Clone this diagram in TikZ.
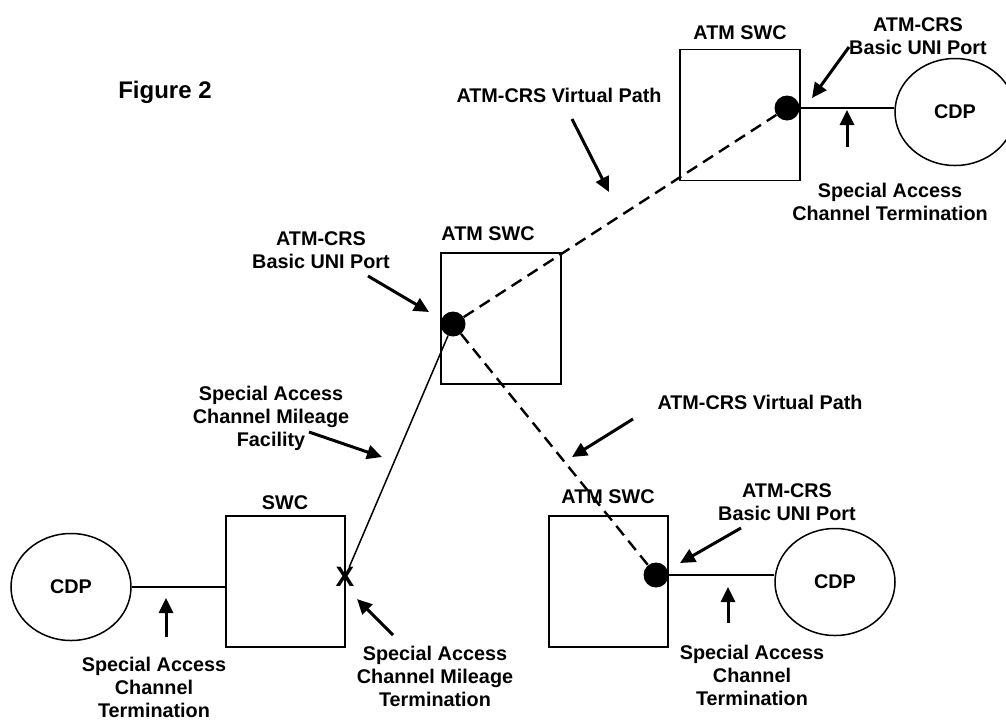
\documentclass[tikz,border=0pt]{standalone}
\usepackage{fontspec}
\setmainfont{Liberation Sans}
\usetikzlibrary{shapes.geometric,arrows.meta}
\tikzset{
  lbl/.style={font=\fontsize{19.8}{23}\selectfont\bfseries, inner sep=0pt, align=center},
  swbox/.style={draw, line width=1.9pt, minimum width=120pt, minimum height=131pt, inner sep=0pt},
  port/.style={circle, fill=black, minimum size=25pt, inner sep=0pt},
  cdp/.style={ellipse, draw, line width=1.5pt, minimum width=120pt, minimum height=107pt, inner sep=0pt, font=\fontsize{19.8}{23}\selectfont\bfseries},
  arr/.style={line width=3pt, -{Triangle[length=15pt,width=14pt]}},
  vpath/.style={line width=2.4pt, dash pattern=on 12pt off 7pt},
  facil/.style={line width=1.5pt},
  tline/.style={line width=1.5pt}
}
\begin{document}
\begin{tikzpicture}[x=1pt,y=-1pt]
\useasboundingbox[fill=white] (0,0) rectangle (1006,721);

% boxes
\node[swbox] (tbox) at (740,115) {};
\node[swbox] (mbox) at (501,318.5) {};
\node[swbox, minimum width=119pt] (sbox) at (285.5,581.5) {};
\node[swbox, minimum width=119pt] (bbox) at (608.5,581.5) {};

% box labels
\node[lbl] (tboxl) at (740,33) {ATM SWC};
\node[lbl] (mboxl) at (488,234) {ATM SWC};
\node[lbl] (sboxl) at (285,503) {SWC};
\node[lbl] (bboxl) at (608,497) {ATM SWC};

% CDPs
\node[cdp] (tcdp) at (955,112) {CDP};
\node[cdp] (lcdp) at (71,587) {CDP};
\node[cdp] (bcdp) at (835,582) {CDP};

% ports
\node[port] (tdot) at (787,108) {};
\node[port] (mdot) at (453,324) {};
\node[port] (bdot) at (656,575) {};
\node[lbl, font=\fontsize{28}{30}\selectfont\bfseries] (xm) at (345,577) {X};

% connections
\draw[vpath] (mdot) -- (tdot);
\draw[vpath] (mdot) -- (bdot);
\draw[facil] (mdot) -- (xm);
\draw[tline] (tdot) -- (tdot -| tcdp.west);
\draw[tline] (bdot) -- (bdot -| bcdp.west);
\draw[tline] (lcdp.east) -- (lcdp.east -| sbox.west);

% labels
\node[lbl, font=\fontsize{24}{26}\selectfont\bfseries] (fig) at (165,92) {Figure 2};
\node[lbl] (vp1) at (559,95) {ATM-CRS Virtual Path};
\node[lbl] (tuni) at (918,36) {ATM-CRS\\Basic UNI Port};
\node[lbl] (tsact) at (890,201.5) {Special Access\\Channel Termination};
\node[lbl] (muni) at (321,250.5) {ATM-CRS\\Basic UNI Port};
\node[lbl] (fac) at (271,418) {Special Access\\Channel Mileage\\Facility};
\node[lbl] (vp2) at (760,402) {ATM-CRS Virtual Path};
\node[lbl] (lsact) at (154,687) {Special Access\\Channel\\Termination};
\node[lbl] (mil) at (435,676) {Special Access\\Channel Mileage\\Termination};
\node[lbl] (buni) at (787,502.5) {ATM-CRS\\Basic UNI Port};
\node[lbl] (bsact) at (752,675.5) {Special Access\\Channel\\Termination};

% arrow end points
\coordinate (a1s) at (572,119);  \coordinate (a1e) at (609,192);
\coordinate (a2s) at (849,47);   \coordinate (a2e) at (812,98);
\coordinate (a3s) at (847,147);  \coordinate (a3e) at (847,110);
\coordinate (a4s) at (368,276);  \coordinate (a4e) at (429,312);
\coordinate (a5s) at (309,432);  \coordinate (a5e) at (382,457);
\coordinate (a6s) at (633,419);  \coordinate (a6e) at (572,457);
\coordinate (a7s) at (166,637);  \coordinate (a7e) at (166,598);
\coordinate (a8s) at (393,635);  \coordinate (a8e) at (357,599);
\coordinate (a9s) at (741,528);  \coordinate (a9e) at (680,563);
\coordinate (a10s) at (728,623); \coordinate (a10e) at (728,587);

\draw[arr] (a1s) -- (a1e);
\draw[arr] (a2s) -- (a2e);
\draw[arr] (a3s) -- (a3e);
\draw[arr] (a4s) -- (a4e);
\draw[arr] (a5s) -- (a5e);
\draw[arr] (a6s) -- (a6e);
\draw[arr] (a7s) -- (a7e);
\draw[arr] (a8s) -- (a8e);
\draw[arr] (a9s) -- (a9e);
\draw[arr] (a10s) -- (a10e);
\end{tikzpicture}
\end{document}
